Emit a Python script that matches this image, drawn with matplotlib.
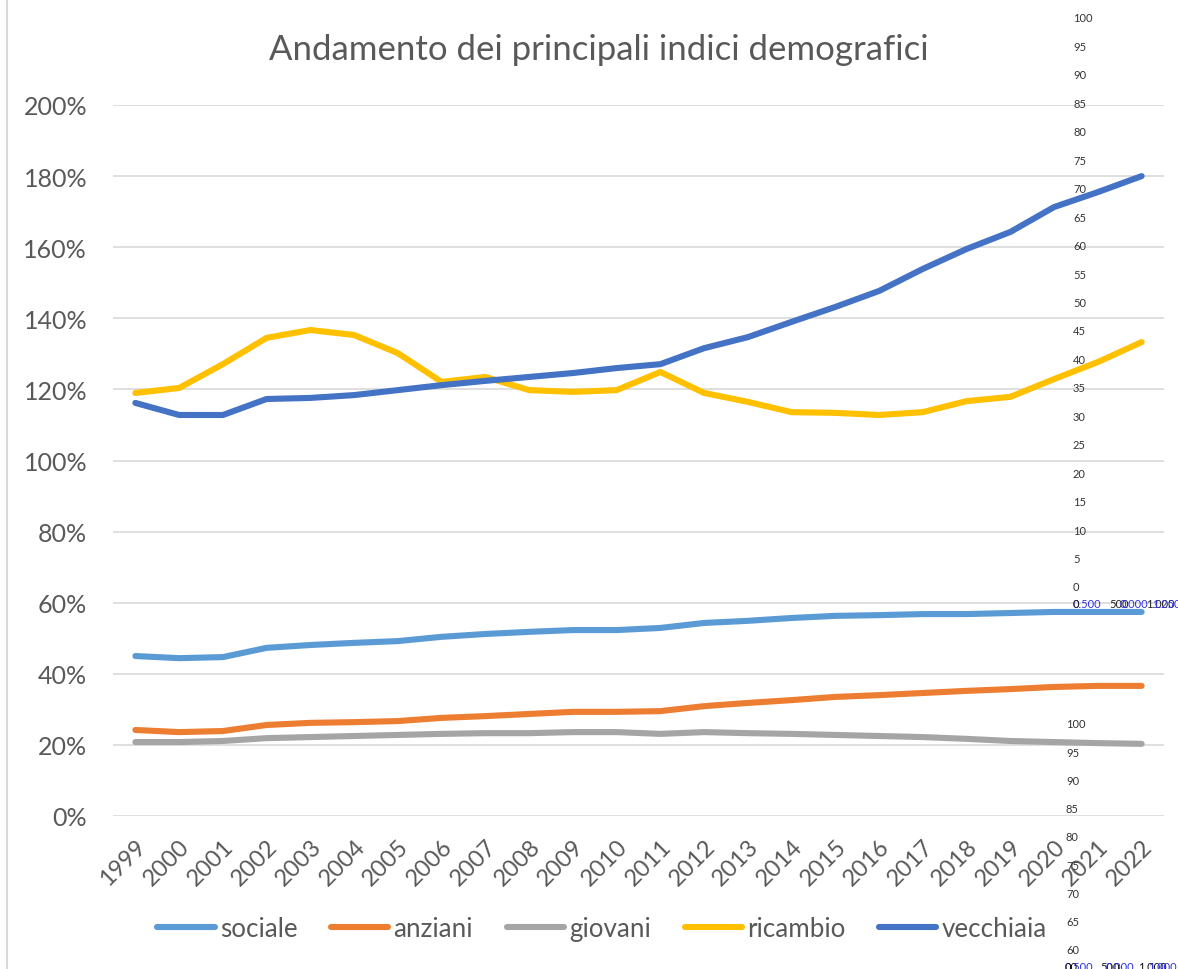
import matplotlib

matplotlib.use("Agg")

import matplotlib.pyplot as plt
from matplotlib.lines import Line2D

plt.rcParams["font.family"] = ["Lato", "DejaVu Sans"]

W, H = 1178, 970

years = list(range(1999, 2023))

sociale = [45.0, 44.4, 44.7, 47.3, 48.1, 48.7, 49.2, 50.4, 51.2, 51.8, 52.3, 52.3,
           52.9, 54.3, 54.9, 55.7, 56.3, 56.5, 56.8, 56.8, 57.1, 57.4, 57.4, 57.4]
anziani = [24.2, 23.6, 23.9, 25.6, 26.2, 26.4, 26.7, 27.6, 28.1, 28.7, 29.3, 29.3,
           29.5, 30.9, 31.8, 32.6, 33.5, 34.0, 34.6, 35.2, 35.7, 36.3, 36.6, 36.6]
giovani = [20.8, 20.8, 21.1, 21.9, 22.2, 22.5, 22.8, 23.1, 23.3, 23.3, 23.6, 23.6,
           23.1, 23.6, 23.3, 23.1, 22.8, 22.5, 22.2, 21.7, 21.1, 20.8, 20.5, 20.3]
ricambio = [119.0, 120.4, 127.1, 134.5, 136.7, 135.3, 130.2, 122.1, 123.5, 119.8, 119.3, 119.8,
            124.9, 119.0, 116.5, 113.6, 113.4, 112.8, 113.6, 116.7, 117.9, 122.9, 127.7, 133.3]
vecchiaia = [116.2, 112.8, 112.8, 117.3, 117.6, 118.4, 119.8, 121.2, 122.4, 123.5, 124.6, 126.0,
             127.1, 131.6, 134.7, 139.0, 143.2, 147.7, 153.9, 159.5, 164.3, 171.3, 175.5, 180.0]

series_names = ["sociale", "anziani", "giovani", "ricambio", "vecchiaia"]
series_colors = ["#5B9BD5", "#ED7D31", "#A5A5A5", "#FFC000", "#4472C4"]

y_ticks = [0, 20, 40, 60, 80, 100, 120, 140, 160, 180, 200]

# stray secondary-axis labels left over on the right edge of the original
stray_top = ["100", "95", "90", "85", "80", "75", "70", "65", "60", "55", "50",
             "45", "40", "35", "30", "25", "20", "15", "10", "5", "0"]
stray_bottom = ["100", "95", "90", "85", "80", "75", "70", "65", "60"]

TEXT = "#595959"


def px(x, y):
    return x / W, 1 - y / H


fig = plt.figure(figsize=(W / 100, H / 100), dpi=100)
ax = fig.add_axes([113.5 / W, 1 - 817 / H, 1050 / W, 711 / H])

data = [sociale, anziani, giovani, ricambio, vecchiaia]
for name, values, color in zip(series_names, data, series_colors):
    ax.plot(years, values, color=color, linewidth=4.4, solid_capstyle="round",
            solid_joinstyle="round", label=name, zorder=3)

ax.set_xlim(1998.5, 2022.5)
ax.set_ylim(0, 200)
ax.set_yticks(y_ticks)
ax.set_yticklabels([f"{v}%" for v in y_ticks])
ax.set_xticks(years)
ax.set_xticklabels([str(y) for y in years], rotation=45, ha="right", va="top",
                   rotation_mode="anchor")
ax.tick_params(axis="y", length=0, pad=19, labelsize=18, labelcolor=TEXT)
ax.tick_params(axis="x", length=0, pad=14, labelsize=17, labelcolor=TEXT)
ax.yaxis.grid(True, color="#D9D9D9", linewidth=1.2)
ax.set_axisbelow(True)
for s in ax.spines.values():
    s.set_visible(False)

fig.text(*px(599, 50), "Andamento dei principali indici demografici",
         ha="center", va="center", fontsize=25, color=TEXT)

handles = [Line2D([0], [0], color=c, linewidth=4.4, solid_capstyle="round")
           for c in series_colors]
leg = fig.legend(handles, series_names, ncol=5, loc="center",
                 bbox_to_anchor=px(602, 930), frameon=False, fontsize=18.7,
                 handlelength=2.2, handletextpad=0.2, columnspacing=1.3)
for t in leg.get_texts():
    t.set_color(TEXT)

# chart border on the left
fig.add_artist(Line2D([7 / W, 7 / W], [0, 1], color="#D9D9D9", linewidth=1.5))

for i, lab in enumerate(stray_top):
    fig.text(*px(1073, 19 + i * 28.45), lab, ha="left", va="center",
             fontsize=8, color="#333333")
for i, lab in enumerate(stray_bottom):
    fig.text(*px(1066, 725 + i * 28.2), lab, ha="left", va="center",
             fontsize=8, color="#333333")

row_top = [(1073, "0.500", "#3030E0"), (1073, "0", "#222222"), (1109, "500", "#222222"),
           (1120, "0.000", "#3030E0"), (1146, "1.000", "#222222"), (1152, "1.250", "#3030E0")]
for x, lab, c in row_top:
    fig.text(*px(x, 604), lab, ha="left", va="center", fontsize=8, color=c)
row_bottom = [(1065, "0.500", "#3030E0"), (1065, "00", "#111111"), (1100, "500", "#111111"),
              (1106, "0.000", "#3030E0"), (1138, "1.000", "#111111"), (1148, "1.000", "#3030E0")]
for x, lab, c in row_bottom:
    fig.text(*px(x, 968), lab, ha="left", va="center", fontsize=8, color=c)

fig.savefig("out.png", dpi=100)
